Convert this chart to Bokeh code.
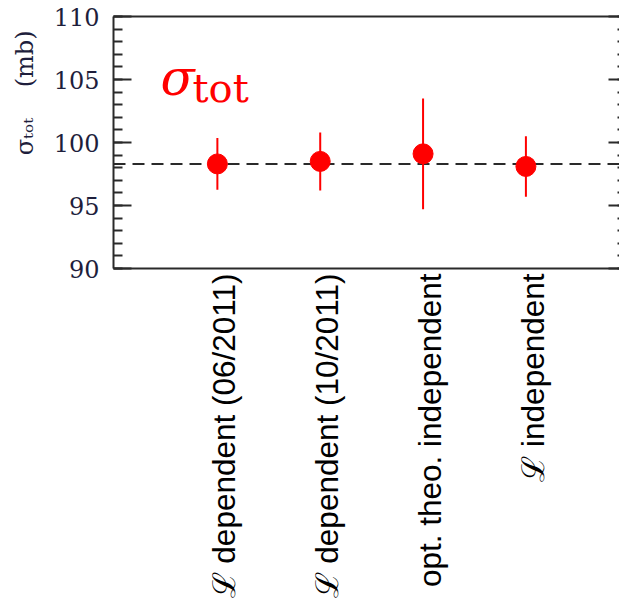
from math import pi
from bokeh.plotting import figure
from bokeh.models import (LinearAxis, Range1d, FixedTicker, Span, Label,
                          ColumnDataSource)
from bokeh.embed import file_html
from bokeh.resources import INLINE

# ---- data ----
categories = ["ℒ dependent (06/2011)", "ℒ dependent (10/2011)",
              "opt. theo. independent", "ℒ independent"]
sigma_tot = [98.3, 98.5, 99.1, 98.1]      # mb
sigma_err = [2.05, 2.3, 4.4, 2.4]         # mb
reference_value = 98.3                     # dashed line, mb
y_ticks = [90, 95, 100, 105, 110]
y_minor = list(range(90, 111))
y_title = "σₜₒₜ" + "\u00a0" * 4 + "(mb)"

positions = list(range(1, len(categories) + 1))
src = ColumnDataSource(dict(
    x=positions, y=sigma_tot,
    lo=[v - e for v, e in zip(sigma_tot, sigma_err)],
    hi=[v + e for v, e in zip(sigma_tot, sigma_err)],
))

AX = "#2a2a2a"
TICKLAB = "#1e1e3c"

p = figure(width=619, height=603, output_backend="svg", toolbar_location=None,
           x_range=Range1d(-0.01, 4.91), y_range=Range1d(90, 110),
           x_axis_location=None, y_axis_location=None,
           min_border_left=113, min_border_right=0,
           min_border_top=16, min_border_bottom=335)
# label range: category labels sit slightly right of their points
p.extra_x_ranges = {"labels": Range1d(-0.075, 4.845)}
p.grid.visible = False
p.outline_line_color = None
p.background_fill_color = "white"
p.border_fill_color = "white"

# left axis with title (leading no-break spaces shift the title towards the top)
left = LinearAxis(ticker=FixedTicker(ticks=y_ticks, minor_ticks=y_minor),
                  major_tick_in=18, major_tick_out=0,
                  minor_tick_in=9, minor_tick_out=0,
                  axis_line_width=2, axis_line_color=AX,
                  major_tick_line_width=2, major_tick_line_color=AX,
                  minor_tick_line_width=2, minor_tick_line_color=AX,
                  major_label_standoff=14,
                  major_label_text_font="DejaVu Serif",
                  major_label_text_font_size="24px",
                  major_label_text_color=TICKLAB,
                  axis_label="\u00a0" * 13 + y_title,
                  axis_label_align="center",
                  axis_label_standoff=12,
                  axis_label_text_font="DejaVu Serif",
                  axis_label_text_font_style="normal",
                  axis_label_text_font_size="24px",
                  axis_label_text_color=TICKLAB)
p.add_layout(left, "left")

# right side: ticks only (major and minor as two tick-only axes)
for tick_list, tick_len in ((y_ticks, 11), (y_minor, 2)):
    p.add_layout(LinearAxis(ticker=FixedTicker(ticks=[], minor_ticks=tick_list),
                            major_tick_in=0, major_tick_out=0,
                            minor_tick_in=tick_len, minor_tick_out=0,
                            axis_line_color=None,
                            minor_tick_line_width=2, minor_tick_line_color=AX,
                            major_label_standoff=0), "right")

# top frame line
p.add_layout(LinearAxis(ticker=FixedTicker(ticks=[]),
                        major_tick_in=0, major_tick_out=0,
                        minor_tick_in=0, minor_tick_out=0,
                        axis_line_width=2, axis_line_color=AX,
                        major_label_standoff=0), "above")

# bottom axis with category labels
bottom = LinearAxis(x_range_name="labels",
                    ticker=FixedTicker(ticks=positions),
                    major_label_overrides={pos: c for pos, c in zip(positions, categories)},
                    major_label_orientation=pi / 2,
                    major_tick_in=0, major_tick_out=0,
                    minor_tick_in=0, minor_tick_out=0,
                    axis_line_width=2, axis_line_color=AX,
                    major_label_standoff=5,
                    major_label_text_font="Liberation Sans",
                    major_label_text_font_size="31.5px",
                    major_label_text_color="black")
p.add_layout(bottom, "below")

# dashed reference line
span = Span(location=reference_value, dimension="width", line_color=AX,
            line_width=2, line_dash="12 7", level="underlay")
p.add_layout(span)

# error bars and points
p.segment("x", "lo", "x", "hi", source=src, line_color="red", line_width=2)
p.scatter("x", "y", source=src, size=20, color="red")

# in-plot label sigma_tot
p.add_layout(Label(x=160, y=77, x_units="canvas", y_units="canvas", text="σ",
                   text_font="DejaVu Serif", text_font_style="italic",
                   text_font_size="50px", text_color="red",
                   text_baseline="alphabetic", text_align="left"))
p.add_layout(Label(x=192, y=87, x_units="canvas", y_units="canvas", text="tot",
                   text_font="DejaVu Serif", text_font_size="40px", text_color="red",
                   text_baseline="alphabetic", text_align="left"))

open("out.html", "w").write(file_html(p, INLINE))
